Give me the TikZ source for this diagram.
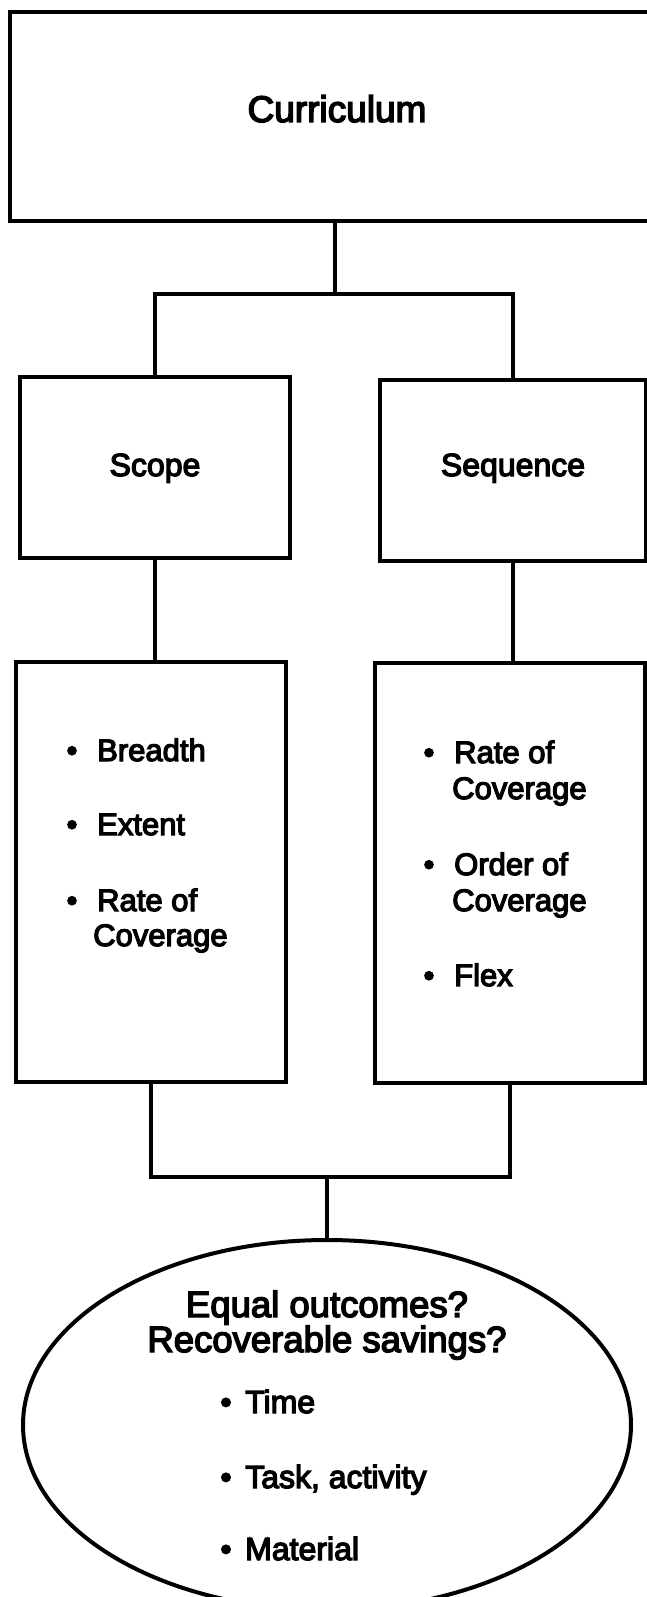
\documentclass[tikz,border=0pt]{standalone}
\usepackage{fontspec}
\setmainfont{Liberation Sans}[FakeBold=4]
\usetikzlibrary{shapes.geometric}
\begin{document}
\begin{tikzpicture}[x=1pt,y=-1pt,
  box/.style={draw, line width=3.5pt, inner sep=0pt},
  conn/.style={draw, line width=3.5pt},
  head/.style={inner sep=0pt, anchor=base, font=\fontsize{32}{36}\selectfont},
  item/.style={inner sep=0pt, anchor=base west, font=\fontsize{31}{35}\selectfont},
  bul/.style={inner sep=0pt, anchor=base, font=\fontsize{31}{35}\selectfont},
  eitem/.style={inner sep=0pt, anchor=base west, font=\fontsize{32}{36}\selectfont},
  ebul/.style={inner sep=0pt, anchor=base, font=\fontsize{32}{36}\selectfont}]
\useasboundingbox (0,0) rectangle (647,1597);
\clip (0,0) rectangle (647,1597);
\fill[white] (0,0) rectangle (647,1597);

% boxes
\node[box, minimum width=650pt, minimum height=209pt] (cur) at (335,116.5) {};
\node[box, minimum width=270pt, minimum height=181pt] (scope) at (155,467.5) {};
\node[box, minimum width=266pt, minimum height=181pt] (seq) at (513,470.5) {};
\node[box, minimum width=270pt, minimum height=420pt] (listL) at (151,872) {};
\node[box, minimum width=270pt, minimum height=420pt] (listR) at (510,873) {};
\node[ellipse, draw, line width=4pt, inner sep=0pt, minimum width=608pt, minimum height=370pt] (ell) at (327,1425) {};

% texts
\node[head, font=\fontsize{37}{40}\selectfont] (tcur) at (337,122) {Curriculum};
\node[head] (tscope) at (155,476) {Scope};
\node[head] (tseq) at (513,476) {Sequence};

\node[bul] (bl1) at (72,761) {•};
\node[item] (l1) at (97,761) {Breadth};
\node[bul] (bl2) at (72,835) {•};
\node[item] (l2) at (97,835) {Extent};
\node[bul] (bl3) at (72,911) {•};
\node[item] (l3) at (97,911) {Rate of};
\node[item] (l3b) at (93,946) {Coverage};

\node[bul] (br1) at (429,763) {•};
\node[item] (r1) at (454,763) {Rate of};
\node[item] (r1b) at (452,799) {Coverage};
\node[bul] (br2) at (429,875) {•};
\node[item] (r2) at (454,875) {Order of};
\node[item] (r2b) at (452,911) {Coverage};
\node[bul] (br3) at (429,986) {•};
\node[item] (r3) at (454,986) {Flex};

\node[head, font=\fontsize{36.5}{40}\selectfont] (e1) at (327,1317) {Equal outcomes?};
\node[head, font=\fontsize{36.5}{40}\selectfont] (e2) at (327,1352) {Recoverable savings?};
\node[ebul] (be1) at (226,1413) {•};
\node[eitem] (i1) at (245,1413) {Time};
\node[ebul] (be2) at (226,1488) {•};
\node[eitem] (i2) at (245,1488) {Task, activity};
\node[ebul] (be3) at (226,1560) {•};
\node[eitem] (i3) at (245,1560) {Material};

% connectors
\coordinate (j1) at (335,294);
\coordinate (j2) at (327,1177);
\draw[conn] (cur.south) -- (j1);
\draw[conn] (scope.north) |- (j1) -| (seq.north);
\draw[conn] (scope.south) -- (scope.south |- listL.north);
\draw[conn] (seq.south) -- (seq.south |- listR.north);
\draw[conn] (listL.south) |- (j2) -| (listR.south);
\draw[conn] (j2) -- (ell.north);
\end{tikzpicture}
\end{document}
